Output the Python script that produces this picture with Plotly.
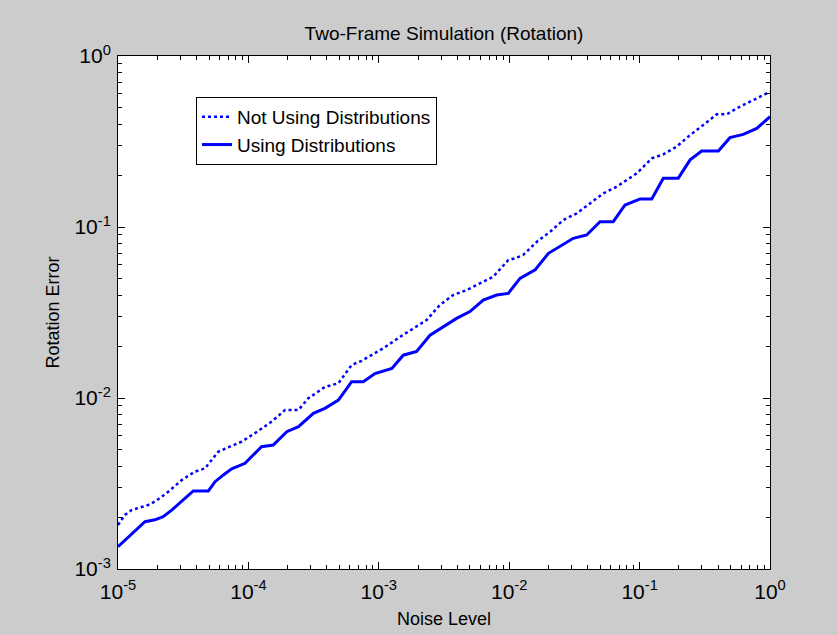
import plotly.graph_objects as go

# Noise level / rotation error
noise_using = [1.00e-5, 1.61e-5, 1.92e-5, 2.22e-5, 2.58e-5, 3.27e-5, 3.78e-5, 4.93e-5, 5.55e-5, 6.43e-5,
               7.45e-5, 9.42e-5, 1.26e-4, 1.55e-4, 1.97e-4, 2.42e-4, 3.15e-4, 3.86e-4, 4.90e-4, 6.19e-4,
               7.60e-4, 9.35e-4, 1.26e-3, 1.54e-3, 1.95e-3, 2.47e-3, 3.13e-3, 3.95e-3, 5.00e-3, 6.32e-3,
               8.02e-3, 9.84e-3, 1.21e-2, 1.58e-2, 2.00e-2, 2.45e-2, 3.10e-2, 3.93e-2, 4.97e-2, 6.28e-2,
               7.73e-2, 1.01e-1, 1.24e-1, 1.52e-1, 1.98e-1, 2.44e-1, 2.99e-1, 4.02e-1, 4.93e-1, 6.24e-1,
               7.91e-1, 1.0]
err_using = [1.35e-3, 1.89e-3, 1.94e-3, 2.02e-3, 2.21e-3, 2.59e-3, 2.86e-3, 2.86e-3, 3.24e-3, 3.55e-3,
             3.85e-3, 4.15e-3, 5.19e-3, 5.31e-3, 6.35e-3, 6.80e-3, 8.13e-3, 8.70e-3, 9.73e-3, 1.245e-2,
             1.245e-2, 1.39e-2, 1.49e-2, 1.78e-2, 1.87e-2, 2.33e-2, 2.61e-2, 2.92e-2, 3.20e-2, 3.74e-2,
             4.00e-2, 4.09e-2, 5.01e-2, 5.61e-2, 7.02e-2, 7.67e-2, 8.59e-2, 8.98e-2, 0.1074, 0.1074,
             0.1345, 0.146, 0.146, 0.193, 0.193, 0.247, 0.278, 0.278, 0.333, 0.348,
             0.377, 0.442]

noise_not = [1.00e-5, 1.13e-5, 1.27e-5, 1.71e-5, 1.92e-5, 2.43e-5, 3.08e-5, 3.89e-5, 4.65e-5, 5.87e-5,
             7.01e-5, 8.87e-5, 1.12e-4, 1.51e-4, 1.91e-4, 2.42e-4, 2.88e-4, 3.86e-4, 4.90e-4, 6.19e-4,
             7.40e-4, 8.81e-4, 1.08e-3, 1.46e-3, 1.84e-3, 2.33e-3, 2.94e-3, 3.72e-3, 4.72e-3, 5.97e-3,
             7.55e-3, 9.84e-3, 1.11e-2, 1.28e-2, 1.63e-2, 2.06e-2, 2.60e-2, 3.30e-2, 4.17e-2, 5.27e-2,
             6.67e-2, 7.96e-2, 9.51e-2, 1.24e-1, 1.52e-1, 1.92e-1, 2.44e-1, 3.08e-1, 3.90e-1, 4.66e-1,
             5.56e-1, 7.03e-1, 1.0]
err_not = [1.81e-3, 2.07e-3, 2.21e-3, 2.37e-3, 2.48e-3, 2.83e-3, 3.31e-3, 3.71e-3, 3.88e-3, 4.85e-3,
           5.15e-3, 5.55e-3, 6.22e-3, 7.28e-3, 8.51e-3, 8.51e-3, 9.96e-3, 1.16e-2, 1.22e-2, 1.56e-2,
           1.65e-2, 1.78e-2, 1.95e-2, 2.28e-2, 2.55e-2, 2.86e-2, 3.50e-2, 4.00e-2, 4.28e-2, 4.69e-2,
           5.12e-2, 6.41e-2, 6.56e-2, 6.86e-2, 8.20e-2, 9.38e-2, 0.1099, 0.1202, 0.1376, 0.1574,
           0.172, 0.188, 0.206, 0.252, 0.266, 0.295, 0.345, 0.395, 0.456, 0.456,
           0.494, 0.541, 0.618]

series_names = ["Not Using Distributions", "Using Distributions"]
title_text = "Two-Frame Simulation (Rotation)"
x_title = "Noise Level"
y_title = "Rotation Error"
x_exponents = [-5, -4, -3, -2, -1, 0]
y_exponents = [-3, -2, -1, 0]

FONT = "Liberation Sans, Arial, sans-serif"


def ticks_for(exps):
    vals = [10.0 ** e for e in exps]
    text = ["10<sup>%d</sup>" % e for e in exps]
    minor = [m * 10.0 ** e for e in exps[:-1] for m in range(2, 10)]
    return vals, text, minor


xv, xt, xm = ticks_for(x_exponents)
yv, yt, ym = ticks_for(y_exponents)

fig = go.Figure()
fig.add_trace(go.Scatter(x=noise_not, y=err_not, mode="lines", name=series_names[0],
                         line=dict(color="#0000ff", width=2.5, dash="dot")))
fig.add_trace(go.Scatter(x=noise_using, y=err_using, mode="lines", name=series_names[1],
                         line=dict(color="#0000ff", width=3)))

axis_common = dict(
    type="log", showgrid=False, zeroline=False, automargin=False,
    showline=True, linecolor="black", linewidth=1, mirror="allticks",
    ticks="inside", ticklen=7, tickcolor="black", tickwidth=1,
    tickfont=dict(family=FONT, size=21, color="black"),
)

fig.update_layout(
    width=838, height=635,
    paper_bgcolor="#cccccc", plot_bgcolor="white",
    margin=dict(l=118, r=68, t=56, b=66),
    title=dict(text=title_text, x=(118 + 770) / 2 / 838, xanchor="center", y=1 - 33 / 635, yanchor="middle",
               font=dict(family=FONT, size=19, color="black")),
    xaxis=dict(axis_common, range=[-5, 0], tickmode="array", tickvals=xv, ticktext=xt,
               ticklabelstandoff=4,
               minor=dict(tickmode="array", tickvals=xm, ticks="inside", ticklen=4,
                          tickcolor="black", showgrid=False),
               title=dict(text=x_title, font=dict(family=FONT, size=18, color="black"), standoff=10)),
    yaxis=dict(axis_common, range=[-3, 0], tickmode="array", tickvals=yv, ticktext=yt,
               ticklabelstandoff=2,
               minor=dict(tickmode="array", tickvals=ym, ticks="inside", ticklen=4,
                          tickcolor="black", showgrid=False),
               title=dict(text=y_title, font=dict(family=FONT, size=18, color="black"), standoff=10)),
    legend=dict(x=(196 - 118) / 652, y=(569 - 97) / 513, xanchor="left", yanchor="top",
                bgcolor="white", bordercolor="black", borderwidth=1,
                font=dict(family=FONT, size=19, color="black"), tracegroupgap=0),
    showlegend=True,
)

fig.write_html("out.html")
